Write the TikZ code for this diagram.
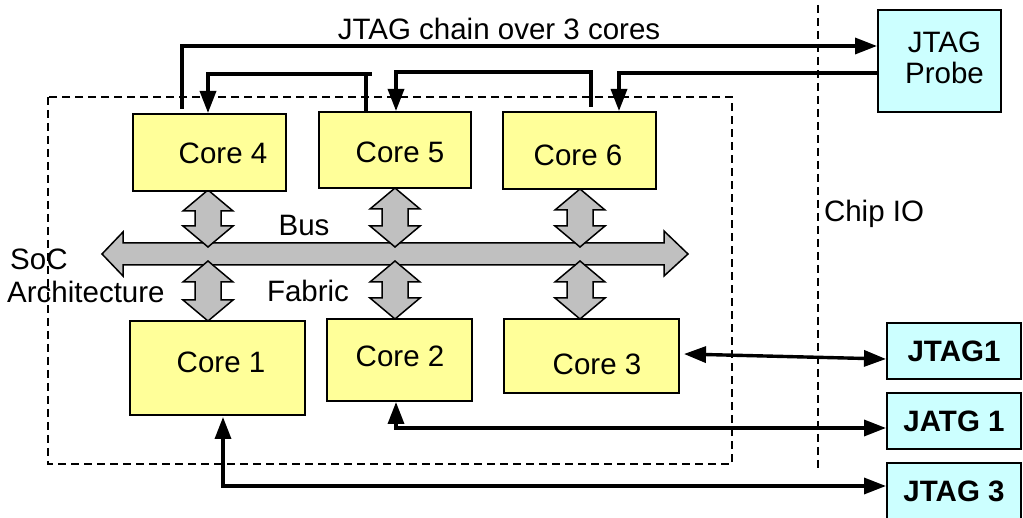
\documentclass[tikz,border=0pt]{standalone}
\usepackage{fontspec}
\setmainfont{Liberation Sans}
\usetikzlibrary{arrows.meta,calc}
\definecolor{coreyellow}{HTML}{FFFF99}
\definecolor{iocyan}{HTML}{CCFFFF}
\definecolor{busgray}{HTML}{C0C0C0}
% vertical double-headed port between a core and the bus: x, top tip y, bottom tip y
\newcommand\drawport[3]{%
  \draw[port] (#1,#2) -- (#1+25,#2+21) -- (#1+13,#2+21) -- (#1+13,#3-21)
    -- (#1+25,#3-21) -- (#1,#3) -- (#1-25,#3-21) -- (#1-13,#3-21)
    -- (#1-13,#2+21) -- (#1-25,#2+21) -- cycle;}
\begin{document}
\begin{tikzpicture}[x=1pt,y=-1pt,
  font=\fontsize{29.5}{31}\selectfont,
  >={Triangle[length=22pt,width=16pt]},
  core/.style={draw,line width=2pt,fill=coreyellow,inner sep=0pt},
  iobox/.style={draw,line width=2pt,fill=iocyan,inner sep=0pt,
    minimum width=134pt,minimum height=56pt,font=\fontsize{29.5}{31}\selectfont\bfseries},
  wire/.style={line width=3.4pt},
  guide/.style={line width=1.3pt,dash pattern=on 8pt off 5pt},
  port/.style={draw,line width=1.5pt,fill=busgray,line join=miter}]
\useasboundingbox (0,0) rectangle (1023,518);

% chip boundary and SoC boundary
\draw[guide] (48,97) rectangle (732,464);
\draw[guide] (818,5) -- (818,469);

% bus fabric
\draw[port] (102,254) -- (123,232) -- (123,243) -- (664,243) -- (664,231)
  -- (688,254) -- (664,276) -- (664,265) -- (123,265) -- (123,276) -- cycle;
\drawport{208}{190}{247}
\drawport{395}{188}{247}
\drawport{580}{189}{247}
\drawport{208}{261}{321}
\drawport{395}{261}{319}
\drawport{580}{261}{319}

% cores
\node[core,minimum width=153pt,minimum height=77pt,
  label={[shift={(13.5,0.5)}]center:Core 4}] (core4) at (209.5,152.5) {};
\node[core,minimum width=152pt,minimum height=76pt,
  label={[shift={(5,2)}]center:Core 5}] (core5) at (395,150) {};
\node[core,minimum width=153pt,minimum height=77pt,
  label={[shift={(-1.5,4.5)}]center:Core 6}] (core6) at (579.5,150.5) {};
\node[core,minimum width=175pt,minimum height=94pt,
  label={[shift={(3.5,-6)}]center:Core 1}] (core1) at (217.5,368) {};
\node[core,minimum width=145pt,minimum height=82pt,
  label={[shift={(0.5,-4)}]center:Core 2}] (core2) at (399.5,360) {};
\node[core,minimum width=175pt,minimum height=74pt,
  label={[shift={(5.5,8)}]center:Core 3}] (core3) at (591.5,356) {};

% debug probes and ports
\node[iobox,minimum width=123pt,minimum height=102pt,
  label={[shift={(5,-3)},align=center,font=\fontsize{29.5}{31}\selectfont]center:JTAG\\Probe}]
  (probe) at (939.5,61) {};
\node[iobox] (jtag1) at (954,351.5) {JTAG1};
\node[iobox] (jatg1) at (954,421) {JATG 1};
\node[iobox] (jtag3) at (954,491) {JTAG 3};

% texts
\node[anchor=base] (chainlbl) at (499,40) {JTAG chain over 3 cores};
\node[anchor=base] (buslbl) at (304,236) {Bus};
\node[anchor=base] (fabriclbl) at (308,302) {Fabric};
\node[anchor=base west,inner sep=0pt] (soclbl) at (10,270) {SoC};
\node[anchor=base west,inner sep=0pt] (archlbl) at (7,303) {Architecture};
\node[anchor=base] (iolbl) at (874,222) {Chip IO};

% JTAG chain through cores 4, 5 and 6
\draw[wire,->,shorten <=4pt] (core4.north -| 182,0) |- (probe.west |- 0,46);
\draw[wire,->] (core5.north -| 366,0) -- (366,74) -| (core4.north -| 208,0);
\draw[wire] (366,74) -- (372,74);
\draw[wire,->,shorten <=4pt] (core6.north -| 591,0) -- (591,72) -| (core5.north -| 396,0);
\draw[wire,->] (probe.west |- 0,73) -| (core6.north -| 619,0);

% direct JTAG links
\draw[wire,<->] ($(core3.east)+(4,-2)$) -- ($(jtag1.west)+(0,7.5)$);
\draw[wire,<->] (core2.south -| 396,0) |- (jatg1.west |- 0,428);
\draw[wire,<->,shorten <=1pt] (core1.south -| 223,0) |- (jtag3.west |- 0,486);
\end{tikzpicture}
\end{document}
